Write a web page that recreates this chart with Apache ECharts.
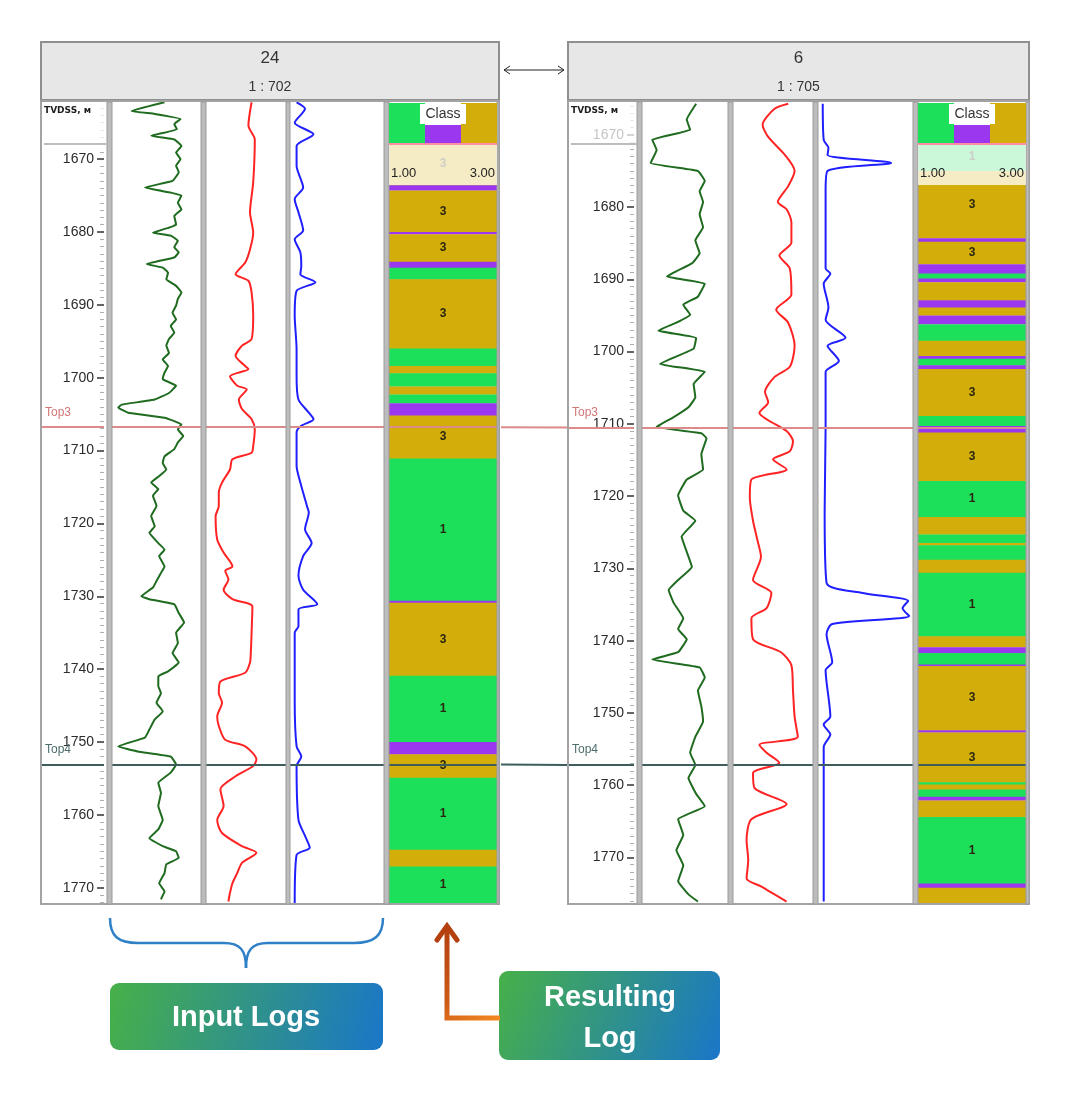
<!DOCTYPE html>
<html><head><meta charset="utf-8">
<script src="https://cdn.jsdelivr.net/npm/echarts@6/dist/echarts.min.js"></script>
<style>html,body{margin:0;padding:0;background:#fff}#c{width:1080px;height:1095px}</style>
</head><body><div id="c"></div>
<script>
// ---------------- DATA ----------------
// [depth (m), value (% of track width)]
const W24_GR = [[1662.2,59],[1663.4,22],[1663.8,48],[1664.5,77],[1665.2,70],[1665.9,73],[1666.8,44],[1667.3,70],[1668.2,78],[1669.1,72],[1670.0,77],[1670.9,72],[1671.8,75],[1673.0,68],[1673.9,37],[1674.6,66],[1675.0,78],[1676.0,74],[1676.9,78],[1677.8,70],[1679.0,72],[1679.4,64],[1680.1,46],[1680.5,66],[1681.2,74],[1682.1,70],[1682.8,75],[1683.5,70],[1684.4,39],[1684.9,57],[1685.6,63],[1686.5,61],[1687.4,72],[1688.3,78],[1689.2,74],[1690.1,72],[1691.1,68],[1692.0,72],[1692.9,66],[1693.8,70],[1694.7,64],[1695.6,61],[1696.6,64],[1697.5,57],[1698.4,63],[1699.3,59],[1700.2,57],[1701.1,72],[1702.1,64],[1703.0,48],[1703.7,11],[1704.1,7],[1704.8,18],[1705.5,59],[1706.4,78],[1707.1,74],[1708.0,80],[1708.9,74],[1709.8,70],[1710.8,59],[1711.7,57],[1712.6,61],[1713.5,53],[1714.4,44],[1715.3,52],[1716.2,46],[1717.6,50],[1719.0,44],[1720.4,48],[1721.3,42],[1722.7,52],[1723.6,59],[1724.5,53],[1725.9,59],[1726.8,55],[1727.9,50],[1728.8,46],[1730.0,33],[1730.4,42],[1731.1,70],[1732.3,75],[1733.6,81],[1735.0,72],[1736.4,74],[1737.8,68],[1739.1,75],[1740.3,63],[1741.0,52],[1742.3,52],[1743.3,55],[1744.6,50],[1745.8,57],[1746.9,48],[1748.3,42],[1749.4,37],[1750.6,7],[1751.3,29],[1752.0,66],[1753.1,72],[1754.2,66],[1755.6,52],[1757.0,55],[1758.8,52],[1760.7,57],[1762.0,52],[1763.2,42],[1764.3,57],[1765.0,72],[1765.9,75],[1766.8,61],[1768.0,59],[1769.4,53],[1770.5,59],[1771.6,55]];
const W24_RES = [[1662.2,57],[1665.4,53],[1667.3,61],[1673.2,59],[1677.3,55],[1680.1,59],[1682.4,55],[1684.2,49],[1685.8,37],[1686.7,53],[1688.3,57],[1691.5,59],[1694.7,57],[1695.6,45],[1697.0,37],[1698.4,49],[1698.8,53],[1699.8,30],[1701.1,39],[1701.6,51],[1703.0,41],[1704.3,45],[1705.7,57],[1707.1,61],[1709.4,59],[1710.3,57],[1711.2,33],[1712.6,30],[1714.4,20],[1715.8,16],[1717.6,16],[1719.0,12],[1722.2,14],[1724.0,22],[1725.9,33],[1726.5,24],[1727.7,28],[1729.1,22],[1730.4,33],[1731.4,58],[1735.0,57],[1737.8,56],[1739.1,55],[1740.5,49],[1741.7,18],[1743.3,16],[1744.6,20],[1746.5,14],[1747.8,16],[1749.7,24],[1750.6,49],[1752.4,63],[1753.3,59],[1754.7,37],[1756.5,18],[1758.8,22],[1760.7,14],[1762.5,20],[1764.3,45],[1765.2,63],[1766.6,45],[1768.0,39],[1769.4,33],[1770.7,30],[1771.9,28]];
const W24_SP = [[1662.2,7],[1663.1,16],[1665.0,5],[1666.6,25],[1668.2,7],[1670.9,7],[1673.9,14],[1675.5,5],[1677.3,9],[1679.8,14],[1681.0,5],[1682.8,11],[1684.7,12],[1685.8,11],[1686.9,27],[1688.1,7],[1691.5,5],[1696.1,7],[1699.8,7],[1703.0,9],[1704.8,20],[1705.7,25],[1706.6,12],[1707.5,7],[1712.1,7],[1714.4,11],[1717.6,18],[1718.5,20],[1720.8,16],[1722.7,23],[1724.5,14],[1727.2,9],[1729.1,14],[1731.1,29],[1731.8,9],[1734.1,9],[1735.0,5],[1744.2,5],[1750.6,7],[1752.0,12],[1753.3,7],[1760.7,9],[1762.9,16],[1764.5,21],[1765.5,7],[1772.1,5]];

const W6_GR = [[1665.7,63],[1667.9,52],[1669.3,56],[1670.7,12],[1672.1,17],[1673.9,10],[1675.0,65],[1676.4,73],[1677.8,67],[1679.3,71],[1681.0,67],[1682.8,71],[1684.6,62],[1686.4,67],[1687.8,58],[1689.6,29],[1690.6,73],[1692.4,65],[1693.5,48],[1694.9,56],[1696.0,40],[1697.1,19],[1698.1,63],[1699.6,60],[1701.7,21],[1702.8,73],[1704.5,60],[1706.3,62],[1707.7,54],[1709.2,35],[1710.4,17],[1711.3,69],[1712.0,75],[1714.2,69],[1716.3,71],[1717.7,52],[1719.9,42],[1722.0,48],[1723.4,62],[1725.6,46],[1727.7,52],[1729.8,58],[1731.6,42],[1733.0,31],[1734.8,37],[1736.9,48],[1738.4,42],[1739.8,52],[1741.6,42],[1742.6,12],[1743.7,67],[1745.1,73],[1746.9,65],[1749.1,69],[1751.2,71],[1753.3,62],[1755.5,56],[1757.2,62],[1759.0,54],[1761.2,63],[1762.9,73],[1764.7,42],[1766.9,48],[1769.0,40],[1771.1,48],[1773.3,42],[1775.1,54],[1776.1,65]];
const W6_RES = [[1665.7,69],[1666.4,52],[1668.6,37],[1670.3,44],[1672.8,65],[1675.0,77],[1677.1,69],[1679.3,56],[1680.3,67],[1682.1,73],[1684.9,73],[1686.7,58],[1688.5,71],[1692.1,73],[1694.2,54],[1696.0,69],[1699.2,77],[1702.1,71],[1703.5,52],[1705.6,40],[1707.0,44],[1708.5,33],[1709.5,44],[1711.0,67],[1712.4,75],[1713.8,71],[1714.9,50],[1716.3,67],[1717.7,23],[1720.2,21],[1723.4,25],[1726.3,31],[1728.4,35],[1731.6,25],[1733.4,48],[1735.5,42],[1736.9,23],[1739.8,25],[1741.6,60],[1743.4,73],[1746.9,75],[1750.5,77],[1753.3,81],[1754.4,33],[1755.5,42],[1756.9,58],[1758.3,25],[1760.4,27],[1762.6,67],[1764.7,23],[1767.6,17],[1770.4,19],[1772.9,17],[1774.0,35],[1776.1,67]];
const W6_SP = [[1665.7,5],[1670.7,6],[1671.8,11],[1672.8,10],[1673.9,77],[1675.0,10],[1677.8,8],[1688.5,8],[1689.2,13],[1690.6,6],[1693.9,11],[1695.6,8],[1698.1,29],[1699.2,10],[1701.3,22],[1702.8,8],[1704.9,8],[1710.6,8],[1722.0,7],[1732.0,9],[1733.4,47],[1734.5,95],[1735.5,89],[1736.6,96],[1737.7,15],[1739.1,9],[1743.0,15],[1744.1,8],[1750.5,13],[1751.6,6],[1753.0,13],[1754.7,6],[1764.7,6],[1776.1,6]];

// class intervals: [top depth, base depth, class]
const W24_CLASS = [[1662.3,1673.6,3],[1673.6,1674.3,2],[1674.3,1680.0,3],[1680.0,1680.3,2],[1680.3,1684.1,3],[1684.1,1684.9,2],[1684.9,1686.5,1],[1686.5,1696.0,3],[1696.0,1698.4,1],[1698.4,1699.4,3],[1699.4,1701.2,1],[1701.2,1702.3,3],[1702.3,1703.5,1],[1703.5,1705.2,2],[1705.2,1711.1,3],[1711.1,1730.6,1],[1730.6,1730.9,2],[1730.9,1740.9,3],[1740.9,1750.0,1],[1750.0,1751.7,2],[1751.7,1754.9,3],[1754.9,1764.8,1],[1764.8,1767.1,3],[1767.1,1772.1,1]];
const W6_CLASS = [[1665.6,1675.0,1],[1675.0,1684.3,3],[1684.3,1684.8,2],[1684.8,1687.9,3],[1687.9,1689.2,2],[1689.2,1689.9,1],[1689.9,1690.4,2],[1690.4,1692.9,3],[1692.9,1693.9,2],[1693.9,1695.0,3],[1695.0,1696.2,2],[1696.2,1698.5,1],[1698.5,1700.6,3],[1700.6,1701.0,2],[1701.0,1701.9,1],[1701.9,1702.4,2],[1702.4,1708.9,3],[1708.9,1710.3,1],[1710.3,1711.2,2],[1711.2,1717.9,3],[1717.9,1722.9,1],[1722.9,1725.3,3],[1725.3,1726.5,1],[1726.5,1726.8,3],[1726.8,1728.8,1],[1728.8,1730.6,3],[1730.6,1739.4,1],[1739.4,1740.9,3],[1740.9,1741.7,2],[1741.7,1743.3,1],[1743.3,1743.5,2],[1743.5,1752.4,3],[1752.4,1752.7,2],[1752.7,1759.6,3],[1759.6,1759.9,1],[1759.9,1760.6,3],[1760.6,1761.6,1],[1761.6,1762.1,2],[1762.1,1764.4,3],[1764.4,1773.6,1],[1773.6,1774.2,2],[1774.2,1776.3,3]];

const TOP_NAMES = ['Top3', 'Top4'];
const W24_TOPS = [1706.8, 1753.1];
const W6_TOPS = [1710.5, 1757.2];
const DEPTH_LABELS = [1670, 1680, 1690, 1700, 1710, 1720, 1730, 1740, 1750, 1760, 1770];
const WELL_NAMES = ['24', '6'];
const WELL_SCALES = ['1 : 702', '1 : 705'];
const WELL_DEPTH_RANGES = [[1662.3, 1772.1], [1665.6, 1776.3]];
const CLASS_RANGE_LABELS = ['1.00', '3.00'];

// ---------------- STYLE / LAYOUT ----------------
const CLASS_COLORS = {1: '#1ce05a', 2: '#9b38ef', 3: '#d3ae0a'};
const CURVE_COLORS = ['#1f6b1f', '#ff2424', '#1f1fff'];
const TOP_LINE_COLORS = ['#dc8a8a', '#3e5d5d'];
const TOP_TEXT_COLORS = ['#d27676', '#4e6c6c'];
const FONT = '"Liberation Sans", Arial, sans-serif';
const TOP_Y = 103, BOT_Y = 903, HEADER_BOTTOM = 143;
const LAYOUT = [
  {x0: 40, x1: 500, depth: [42, 104], tracks: [[112, 201], [206, 286], [290, 384]], cls: [389, 497],
   seps: [[107, 112], [201, 206], [286, 290], [384, 389], [497, 499]]},
  {x0: 567, x1: 1030, depth: [569, 634], tracks: [[642, 728], [733, 813], [818, 913]], cls: [918, 1026],
   seps: [[637, 642], [728, 733], [813, 818], [913, 918], [1026, 1029]]}
];

const WELLS = [
  {curves: [W24_GR, W24_RES, W24_SP], classes: W24_CLASS, tops: W24_TOPS},
  {curves: [W6_GR, W6_RES, W6_SP], classes: W6_CLASS, tops: W6_TOPS}
];

function T(text, x, y, font, fill, align, vAlign, z) {
  align = align || 'center'; vAlign = vAlign || 'middle';
  return {type: 'text', z: z || 20, x: x, y: y, silent: true,
    style: {text: text, font: font, fill: fill, align: align, verticalAlign: vAlign, textAlign: align, textVerticalAlign: vAlign}};
}
function R(x, y, w, h, style, z) {
  return {type: 'rect', z: z || 15, silent: true, shape: {x: x, y: y, width: w, height: h}, style: style};
}

function topsMarkLine(tops, withLabel) {
  return {
    silent: true, symbol: ['none', 'none'], animation: false,
    data: tops.map((t, i) => ({
      yAxis: t,
      lineStyle: {color: TOP_LINE_COLORS[i], width: 2, type: 'solid', opacity: 1},
      label: {show: withLabel, formatter: TOP_NAMES[i], position: 'insideStartTop', distance: [3, 9],
        color: TOP_TEXT_COLORS[i], fontSize: 12, fontFamily: FONT}
    }))
  };
}

function classRender(params, api) {
  const top = api.value(0), base = api.value(1), cls = api.value(2);
  const cs = params.coordSys;
  const y0 = api.coord([0, top])[1], y1 = api.coord([0, base])[1];
  const children = [{type: 'rect', shape: {x: cs.x, y: y0, width: cs.width, height: Math.max(0.6, y1 - y0 + 0.4)},
    style: {fill: CLASS_COLORS[cls]}}];
  if (base - top >= 3) {
    const ya = Math.max(y0, HEADER_BOTTOM), yb = Math.min(y1, BOT_Y);
    if (yb > ya + 6) {
      children.push({type: 'text', style: {text: String(cls), x: cs.x + cs.width / 2, y: (ya + yb) / 2,
        align: 'center', verticalAlign: 'middle', textAlign: 'center', textVerticalAlign: 'middle',
        fill: '#2a2612', font: 'bold 12px ' + FONT}});
    }
  }
  return {type: 'group', children: children};
}

const grids = [], xAxes = [], yAxes = [], series = [], graphics = [];

function addGrid(left, width, dmin, dmax, xmax, yAxisExtra) {
  const gi = grids.length;
  grids.push({left: left, top: TOP_Y, width: width, height: BOT_Y - TOP_Y, outerBoundsMode: 'none', containLabel: false});
  xAxes.push({gridIndex: gi, type: 'value', min: 0, max: xmax, show: false});
  const yi = yAxes.length;
  yAxes.push(Object.assign({gridIndex: gi, type: 'value', inverse: true, min: dmin, max: dmax, show: false}, yAxisExtra || {}));
  return [gi, yi];
}

WELLS.forEach((w, wi) => {
  const L = LAYOUT[wi];
  const [dmin, dmax] = WELL_DEPTH_RANGES[wi];
  const minors = [];
  for (let d = Math.ceil(dmin); d <= Math.floor(dmax); d++) if (DEPTH_LABELS.indexOf(d) < 0) minors.push(d);
  const dw = L.depth[1] - L.depth[0];

  // depth track: whole-track grid (tops), plus narrow grids whose left axis sits at the tick line
  let [gi, yi] = addGrid(L.depth[0], dw, dmin, dmax, 1);
  series.push({type: 'line', xAxisIndex: gi, yAxisIndex: yi, data: [[0, dmin]], symbol: 'none', silent: true,
    lineStyle: {opacity: 0}, markLine: topsMarkLine(w.tops, true), animation: false});
  addGrid(L.depth[1], 1, dmin, dmax, 1, {show: true, position: 'left',
    axisLine: {show: false}, splitLine: {show: false}, axisLabel: {show: false},
    axisTick: {show: true, inside: false, length: 4, customValues: minors, lineStyle: {color: '#b0b0b0', width: 1}}});
  addGrid(L.depth[1], 1, dmin, dmax, 1, {show: true, position: 'left',
    axisLine: {show: false}, splitLine: {show: false},
    axisTick: {show: true, inside: false, length: 7, customValues: DEPTH_LABELS, lineStyle: {color: '#333', width: 1.5}},
    axisLabel: {show: true, inside: false, margin: 10, customValues: DEPTH_LABELS, formatter: v => String(v),
      fontSize: 14, color: '#2b2b2b', fontFamily: FONT}});

  // curve tracks
  w.curves.forEach((pts, ci) => {
    const tr = L.tracks[ci];
    [gi, yi] = addGrid(tr[0], tr[1] - tr[0], dmin, dmax, 100);
    series.push({type: 'line', xAxisIndex: gi, yAxisIndex: yi, data: pts.map(p => [p[1], p[0]]),
      symbol: 'none', smooth: ci === 0 ? 0.1 : 0.25, clip: true, silent: true, animation: false,
      lineStyle: {color: CURVE_COLORS[ci], width: 2}, markLine: topsMarkLine(w.tops, false)});
  });

  // class track
  [gi, yi] = addGrid(L.cls[0], L.cls[1] - L.cls[0], dmin, dmax, 1);
  series.push({type: 'custom', xAxisIndex: gi, yAxisIndex: yi, data: w.classes, renderItem: classRender,
    encode: {y: [0, 1]}, clip: true, silent: true, animation: false, markLine: topsMarkLine(w.tops, false)});

  // ---- frame graphics ----
  const cx = (L.x0 + L.x1) / 2;
  graphics.push(R(L.x0 + 1, 42, L.x1 - L.x0 - 2, 58, {fill: '#e7e7e7', stroke: '#8f8f8f', lineWidth: 2}, 5));
  graphics.push(T(WELL_NAMES[wi], cx, 58, '17px ' + FONT, '#333'));
  graphics.push(T(WELL_SCALES[wi], cx, 87, '14px ' + FONT, '#333'));
  graphics.push(R(L.x0 + 1, 101, L.x1 - L.x0 - 2, 803, {fill: 'none', stroke: '#a3a3a3', lineWidth: 2}, 16));
  L.seps.forEach(s => graphics.push(R(s[0], 102, s[1] - s[0], 802, {fill: '#bcbcbc', stroke: '#9a9a9a', lineWidth: 1}, 16)));
  // depth-track header
  graphics.push(R(L.depth[0], TOP_Y, dw + 3, HEADER_BOTTOM - TOP_Y, {fill: 'rgba(255,255,255,0.72)'}, 15));
  graphics.push(R(L.depth[0] + 2, HEADER_BOTTOM, dw + 1, 2, {fill: '#bdbdbd'}, 16));
  graphics.push(T('TVDSS, м', L.depth[0] + 2, 111, 'bold 9px "DejaVu Sans", sans-serif', '#1e1e1e', 'left'));
  // class legend header
  const c0 = L.cls[0], c1 = L.cls[1], cw = c1 - c0, a = Math.round(cw / 3), b = Math.round(2 * cw / 3);
  graphics.push(R(c0, TOP_Y, cw, HEADER_BOTTOM - TOP_Y, {fill: '#ffffff'}, 15));
  graphics.push(R(c0, TOP_Y, a, HEADER_BOTTOM - TOP_Y, {fill: CLASS_COLORS[1]}, 16));
  graphics.push(R(c0 + a, 125, b - a, HEADER_BOTTOM - 125, {fill: CLASS_COLORS[2]}, 16));
  graphics.push(R(c0 + b, TOP_Y, cw - b, HEADER_BOTTOM - TOP_Y, {fill: CLASS_COLORS[3]}, 16));
  graphics.push(R(c0 + cw / 2 - 23, 104, 46, 20, {fill: '#ffffff'}, 17));
  graphics.push(T('Class', c0 + cw / 2, 114, '14px ' + FONT, '#333'));
  graphics.push(R(c0, HEADER_BOTTOM, cw, 2, {fill: '#ff8ea2'}, 17));
  graphics.push(R(c0, HEADER_BOTTOM + 2, cw, 40, {fill: 'rgba(255,255,255,0.77)'}, 16));
  graphics.push(T(CLASS_RANGE_LABELS[0], c0 + 2, 173, '13px ' + FONT, '#222', 'left'));
  graphics.push(T(CLASS_RANGE_LABELS[1], c1 - 2, 173, '13px ' + FONT, '#222', 'right'));
});

// correlation lines between the two panels
function depthY(wi, d) {
  const [dmin, dmax] = WELL_DEPTH_RANGES[wi];
  return TOP_Y + (d - dmin) / (dmax - dmin) * (BOT_Y - TOP_Y);
}
TOP_NAMES.forEach((n, i) => {
  graphics.push({type: 'line', z: 15, silent: true,
    shape: {x1: LAYOUT[0].x1 + 1, y1: depthY(0, W24_TOPS[i]), x2: LAYOUT[1].x0, y2: depthY(1, W6_TOPS[i])},
    style: {stroke: TOP_LINE_COLORS[i], lineWidth: 2}});
});

// double arrow between the headers
graphics.push({type: 'line', z: 15, shape: {x1: 504, y1: 70, x2: 564, y2: 70}, style: {stroke: '#222', lineWidth: 1}});
graphics.push({type: 'polyline', z: 15, shape: {points: [[510, 66], [504, 70], [510, 74]]}, style: {stroke: '#222', fill: 'none', lineWidth: 1}});
graphics.push({type: 'polyline', z: 15, shape: {points: [[558, 66], [564, 70], [558, 74]]}, style: {stroke: '#222', fill: 'none', lineWidth: 1}});

// ---- annotations ----
const BRACE = {stroke: '#2f80c6', lineWidth: 2.5, fill: 'none'};
function bz(x1, y1, cx1, cy1, cx2, cy2, x2, y2) {
  return {type: 'bezierCurve', z: 15, silent: true, shape: {x1: x1, y1: y1, cpx1: cx1, cpy1: cy1, cpx2: cx2, cpy2: cy2, x2: x2, y2: y2}, style: BRACE};
}
graphics.push(bz(110, 918, 110, 936, 118, 943, 138, 943));
graphics.push({type: 'line', z: 15, silent: true, shape: {x1: 138, y1: 943, x2: 224, y2: 943}, style: BRACE});
graphics.push(bz(224, 943, 240, 943, 246, 950, 246, 968));
graphics.push(bz(246, 968, 246, 950, 252, 943, 268, 943));
graphics.push({type: 'line', z: 15, silent: true, shape: {x1: 268, y1: 943, x2: 354, y2: 943}, style: BRACE});
graphics.push(bz(354, 943, 374, 943, 383, 936, 383, 918));

const boxGrad = () => new echarts.graphic.LinearGradient(0, 0, 1, 1, [{offset: 0, color: '#47b048'}, {offset: 1, color: '#1a76c8'}]);
graphics.push({type: 'rect', z: 15, silent: true, shape: {x: 110, y: 983, width: 273, height: 67, r: 9}, style: {fill: boxGrad()}});
graphics.push(T('Input Logs', 246, 1018, 'bold 29px ' + FONT, '#ffffff'));
graphics.push({type: 'rect', z: 15, silent: true, shape: {x: 499, y: 971, width: 221, height: 89, r: 9}, style: {fill: boxGrad()}});
graphics.push(T('Resulting', 610, 998, 'bold 29px ' + FONT, '#ffffff'));
graphics.push(T('Log', 610, 1039, 'bold 29px ' + FONT, '#ffffff'));
const arrowGrad = new echarts.graphic.LinearGradient(440, 925, 500, 1020, [{offset: 0, color: '#b03e0e'}, {offset: 0.6, color: '#cc5a16'}, {offset: 1, color: '#f48a22'}], true);
graphics.push({type: 'polyline', z: 15, silent: true, shape: {points: [[447, 926], [447, 1018], [500, 1018]]},
  style: {stroke: arrowGrad, lineWidth: 5, fill: 'none', lineJoin: 'miter'}});
graphics.push({type: 'polyline', z: 15, silent: true, shape: {points: [[437, 940], [447, 926], [457, 940]]},
  style: {stroke: '#b3400e', lineWidth: 5, fill: 'none', lineJoin: 'miter', lineCap: 'round'}});

const chart = echarts.init(document.getElementById('c'), null, {renderer: 'canvas'});
chart.setOption({
  animation: false,
  backgroundColor: '#ffffff',
  grid: grids, xAxis: xAxes, yAxis: yAxes, series: series,
  graphic: {elements: graphics}
});
</script></body></html>
